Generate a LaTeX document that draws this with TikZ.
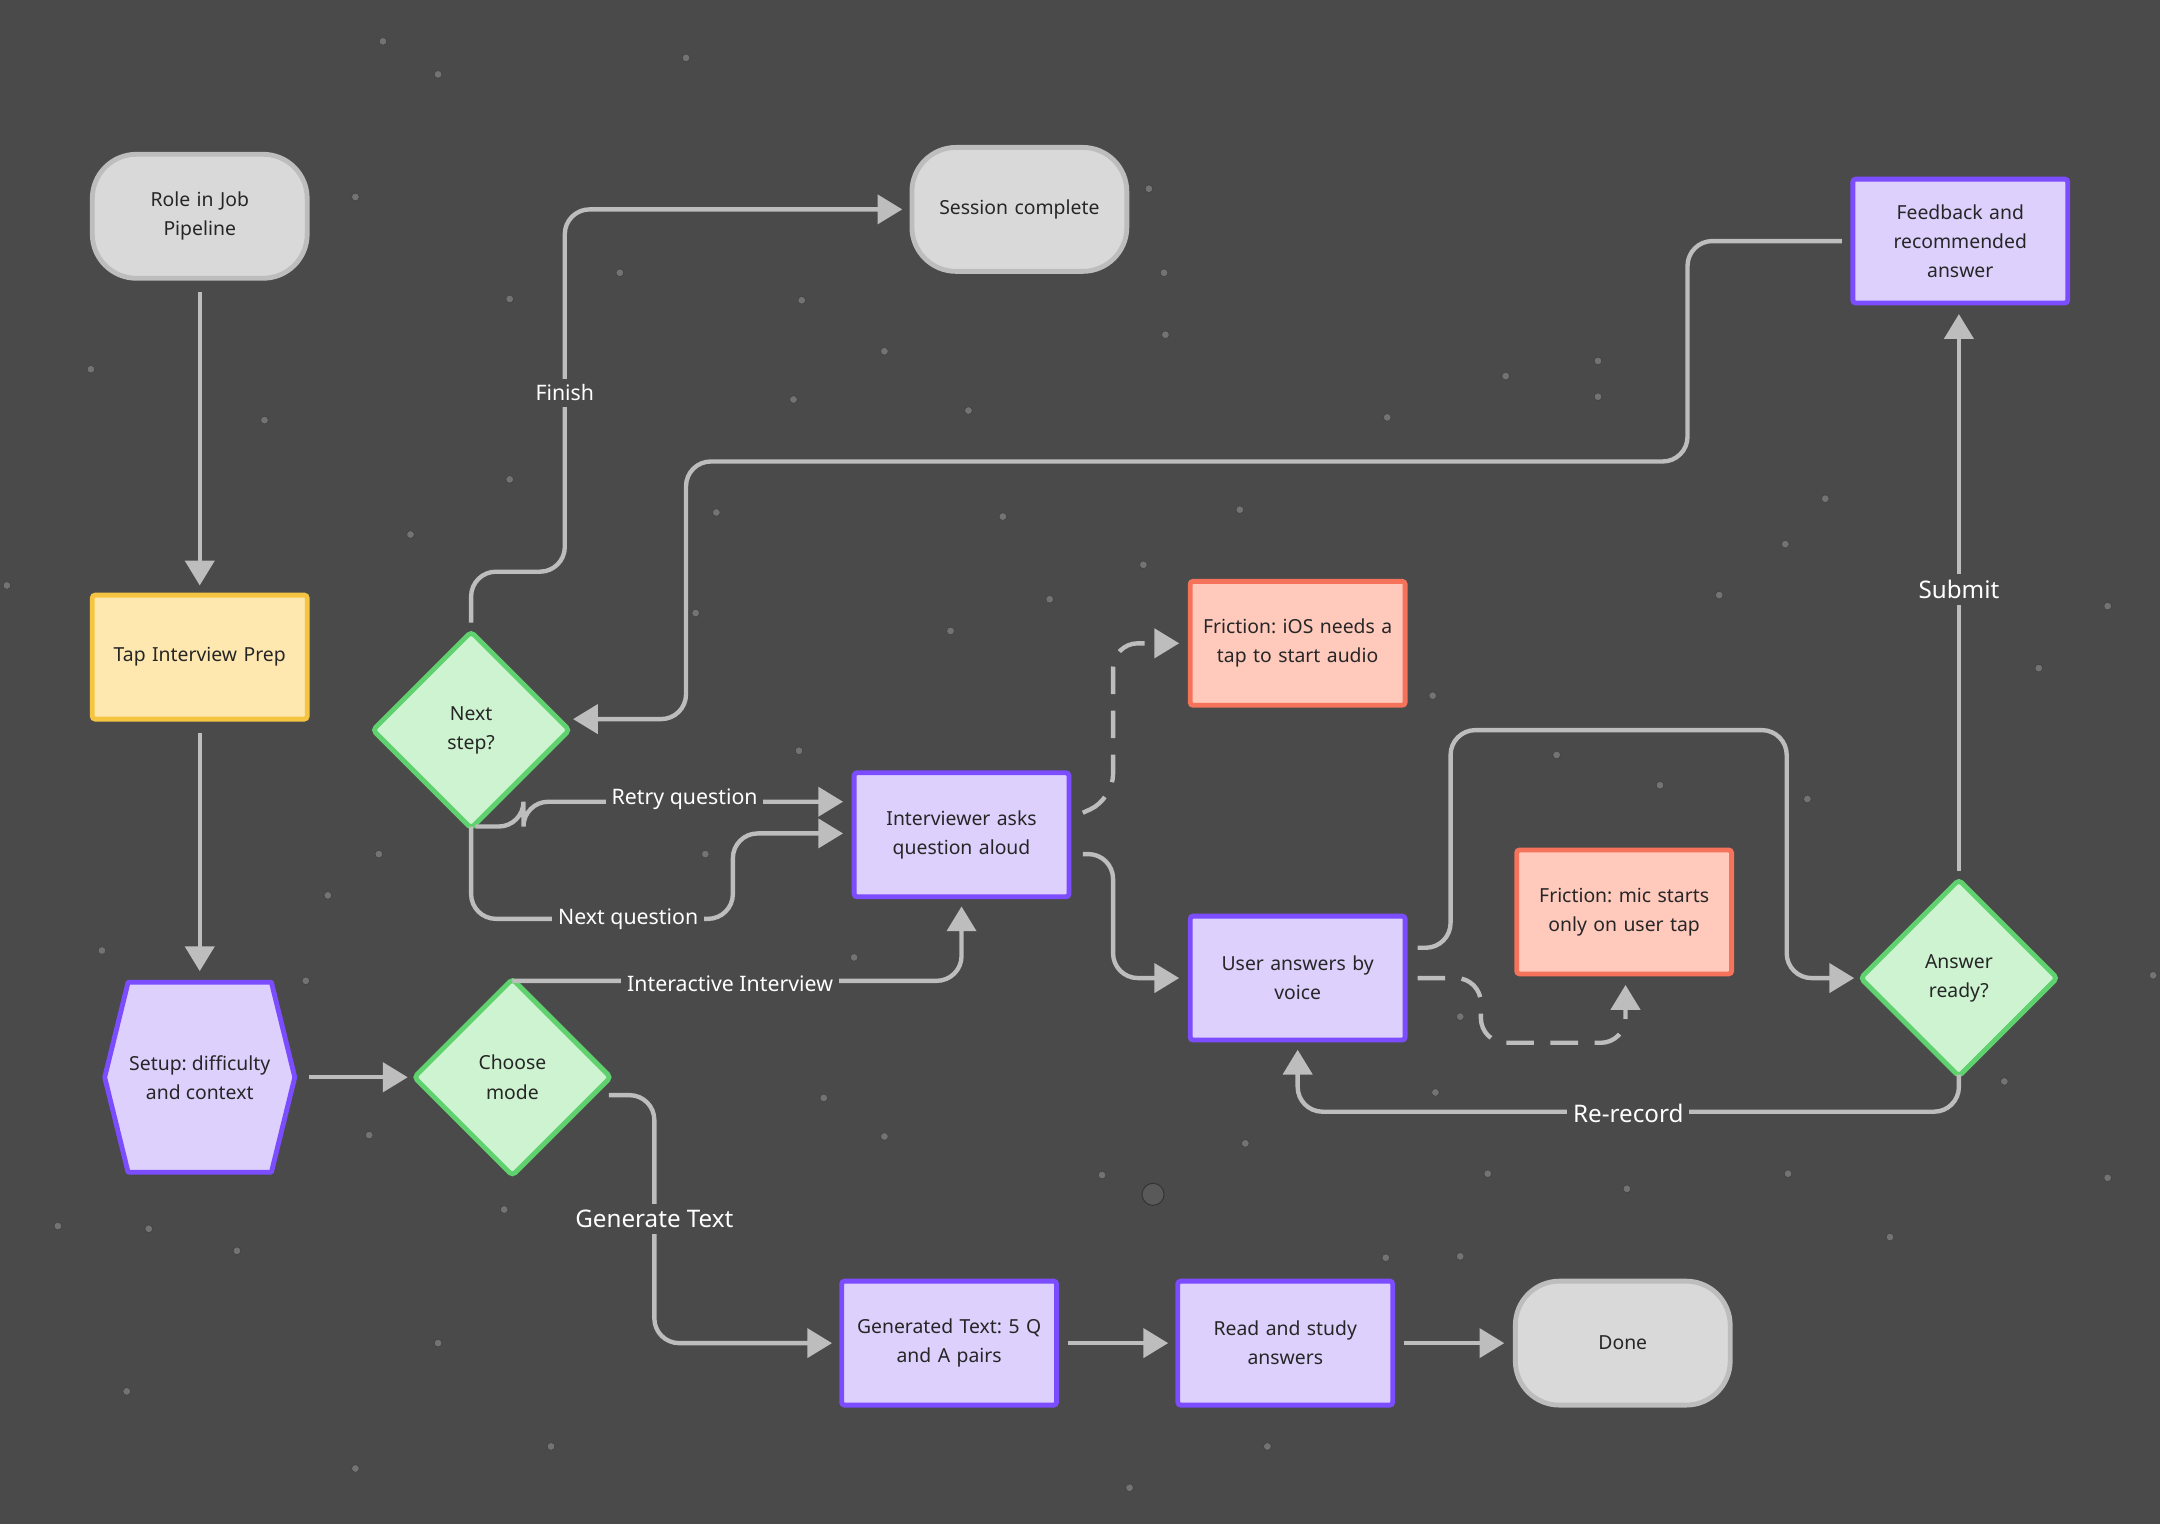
\documentclass[tikz,border=0pt]{standalone}
\usepackage{fontspec}
\setmainfont{Noto Sans}
\frenchspacing
\usetikzlibrary{shapes.geometric,arrows.meta}
\definecolor{bg}{HTML}{4A4A4A}
\definecolor{ln}{HTML}{BDBDBD}
\definecolor{gfill}{HTML}{D9D9D9}
\definecolor{gbord}{HTML}{BDBDBD}
\definecolor{pfill}{HTML}{DDD0FC}
\definecolor{pbord}{HTML}{7C4DFF}
\definecolor{yfill}{HTML}{FFE8B0}
\definecolor{ybord}{HTML}{F5C542}
\definecolor{rfill}{HTML}{FFC9BC}
\definecolor{rbord}{HTML}{F4735A}
\definecolor{dfill}{HTML}{CDF3D0}
\definecolor{dbord}{HTML}{5FD16E}
\tikzset{
 base/.style={font=\fontsize{20}{30}\selectfont, text=black!85, align=center, line width=5pt, minimum width=7.8cm, minimum height=4.5cm, text width=7cm, rounded corners=3pt},
 term/.style={base, rounded corners=1.6cm, fill=gfill, draw=gbord},
 proc/.style={base, fill=pfill, draw=pbord},
 yproc/.style={base, fill=yfill, draw=ybord},
 fric/.style={base, fill=rfill, draw=rbord},
 dec/.style={diamond, aspect=1, minimum width=7.2cm, minimum height=7.2cm, inner sep=0pt, line width=5pt, fill=dfill, draw=dbord, font=\fontsize{20}{30}\selectfont, text=black!85, align=center, rounded corners=4pt},
 conn/.style={draw=ln, line width=4.5pt, rounded corners=0.9cm, -{Triangle[length=0.9cm,width=1.05cm]}},
 dconn/.style={conn, dash pattern=on 1cm off 0.6cm},
 lbl/.style={fill=bg, text=white, font=\fontsize{22}{26}\selectfont, inner sep=6pt},
 blbl/.style={lbl, font=\fontsize{25}{28}\selectfont}
}
\begin{document}
\begin{tikzpicture}[x=0.05cm,y=-0.05cm]
\fill[bg] (0,0) rectangle (1568,1106);
\useasboundingbox (0,0) rectangle (1568,1106);
\foreach \p in {(278,30),(318,54),(498,42),(258,143),(66,268),(192,305),(370,217),(370,348),(298,388),(450,198),(576,290),(642,255),(703,298),(582,218),(845,198),(846,243),(834,137),(1007,303),(1093,273),(1160,262),(1160,288),(1325,362),(1296,395),(1248,432),(1480,485),(1530,440),(1563,708),(1455,785),(1530,855),(1372,898),(1298,852),(1181,863),(1080,852),(1060,912),(1006,913),(904,830),(800,853),(642,825),(598,797),(830,410),(900,370),(1205,570),(1130,548),(1312,580),(1040,505),(1060,738),(1042,793),(728,375),(762,435),(690,458),(620,695),(580,545),(505,445),(520,372),(366,878),(268,824),(172,908),(108,892),(42,890),(92,1010),(318,975),(400,1050),(258,1066),(820,1080),(920,1050),(74,690),(238,650),(222,712),(275,620),(5,425),(512,620)}
 \filldraw[fill=black!55, draw=black!75, line width=0.6pt] \p circle (2.8);
\node[term] (role) at (145,157) {Role in Job\\Pipeline};
\node[term] (sess) at (740,152) {Session complete};
\node[proc] (fb) at (1423,175) {Feedback and\\recommended\\answer};
\node[yproc] (tap) at (145,477) {Tap Interview Prep};
\node[dec] (next) at (342,530) {Next\\step?};
\node[fric] (fios) at (942,467) {Friction: iOS needs a\\tap to start audio};
\node[proc] (ask) at (698,606) {Interviewer asks\\question aloud};
\node[proc] (user) at (942,710) {User answers by\\voice};
\node[fric] (fmic) at (1179,662) {Friction: mic starts\\only on user tap};
\node[dec] (ready) at (1422,710) {Answer\\ready?};
\draw[line width=5pt, fill=pfill, draw=pbord, line join=round] (76,782)--(93,713)--(197,713)--(214,782)--(197,851)--(93,851)--cycle;
\node[font=\fontsize{20}{30}\selectfont, align=center, text=black!85, minimum width=7cm, minimum height=7cm] (setup) at (145,782) {Setup: difficulty\\and context};
\node[dec] (mode) at (372,782) {Choose\\mode};
\node[proc] (gen) at (689,975) {Generated Text: 5 Q\\and A pairs};
\node[proc] (read) at (933,975) {Read and study\\answers};
\node[term] (done) at (1178,975) {Done};
\draw[conn] (145,212) -- (145,425);
\draw[conn] (145,532) -- (145,705);
\draw[conn] (224,782) -- (296,782);
\draw[conn] (372,712) -- (698,712) -- (698,658);
\node[lbl] at (530,714) {Interactive Interview};
\draw[conn] (442,795) -- (475,795) -- (475,975) -- (604,975);
\node[blbl] at (475,885) {Generate Text};
\draw[conn] (775,975) -- (848,975);
\draw[conn] (1019,975) -- (1092,975);
\draw[dconn] (786,590) -- (808,580) -- (808,467) -- (856,467);
\draw[conn] (786,620) -- (808,620) -- (808,710) -- (856,710);
\draw[dconn] (1029,710) -- (1075,710) -- (1075,757) -- (1180,757) -- (1180,715);
\draw[conn] (1029,688) -- (1053,688) -- (1053,530) -- (1297,530) -- (1297,710) -- (1346,710);
\draw[conn] (1422,780) -- (1422,807) -- (942,807) -- (942,762);
\node[blbl] at (1182,808) {Re-record};
\draw[conn] (1422,632) -- (1422,228);
\node[blbl] at (1422,428) {Submit};
\draw[conn] (342,452) -- (342,415) -- (410,415) -- (410,152) -- (655,152);
\node[lbl] at (410,285) {Finish};
\draw[conn] (1337,175) -- (1225,175) -- (1225,335) -- (498,335) -- (498,522) -- (416,522);
\draw[conn] (345,600) -- (380,600) -- (380,582) -- (612,582);
\node[lbl] at (497,580) {Retry question};
\draw[conn] (342,600) -- (342,667) -- (532,667) -- (532,605) -- (612,605);
\node[lbl] at (456,667) {Next question};
\filldraw[fill=black!65, draw=black!80, line width=1pt] (837,867) circle (8);
\end{tikzpicture}
\end{document}
